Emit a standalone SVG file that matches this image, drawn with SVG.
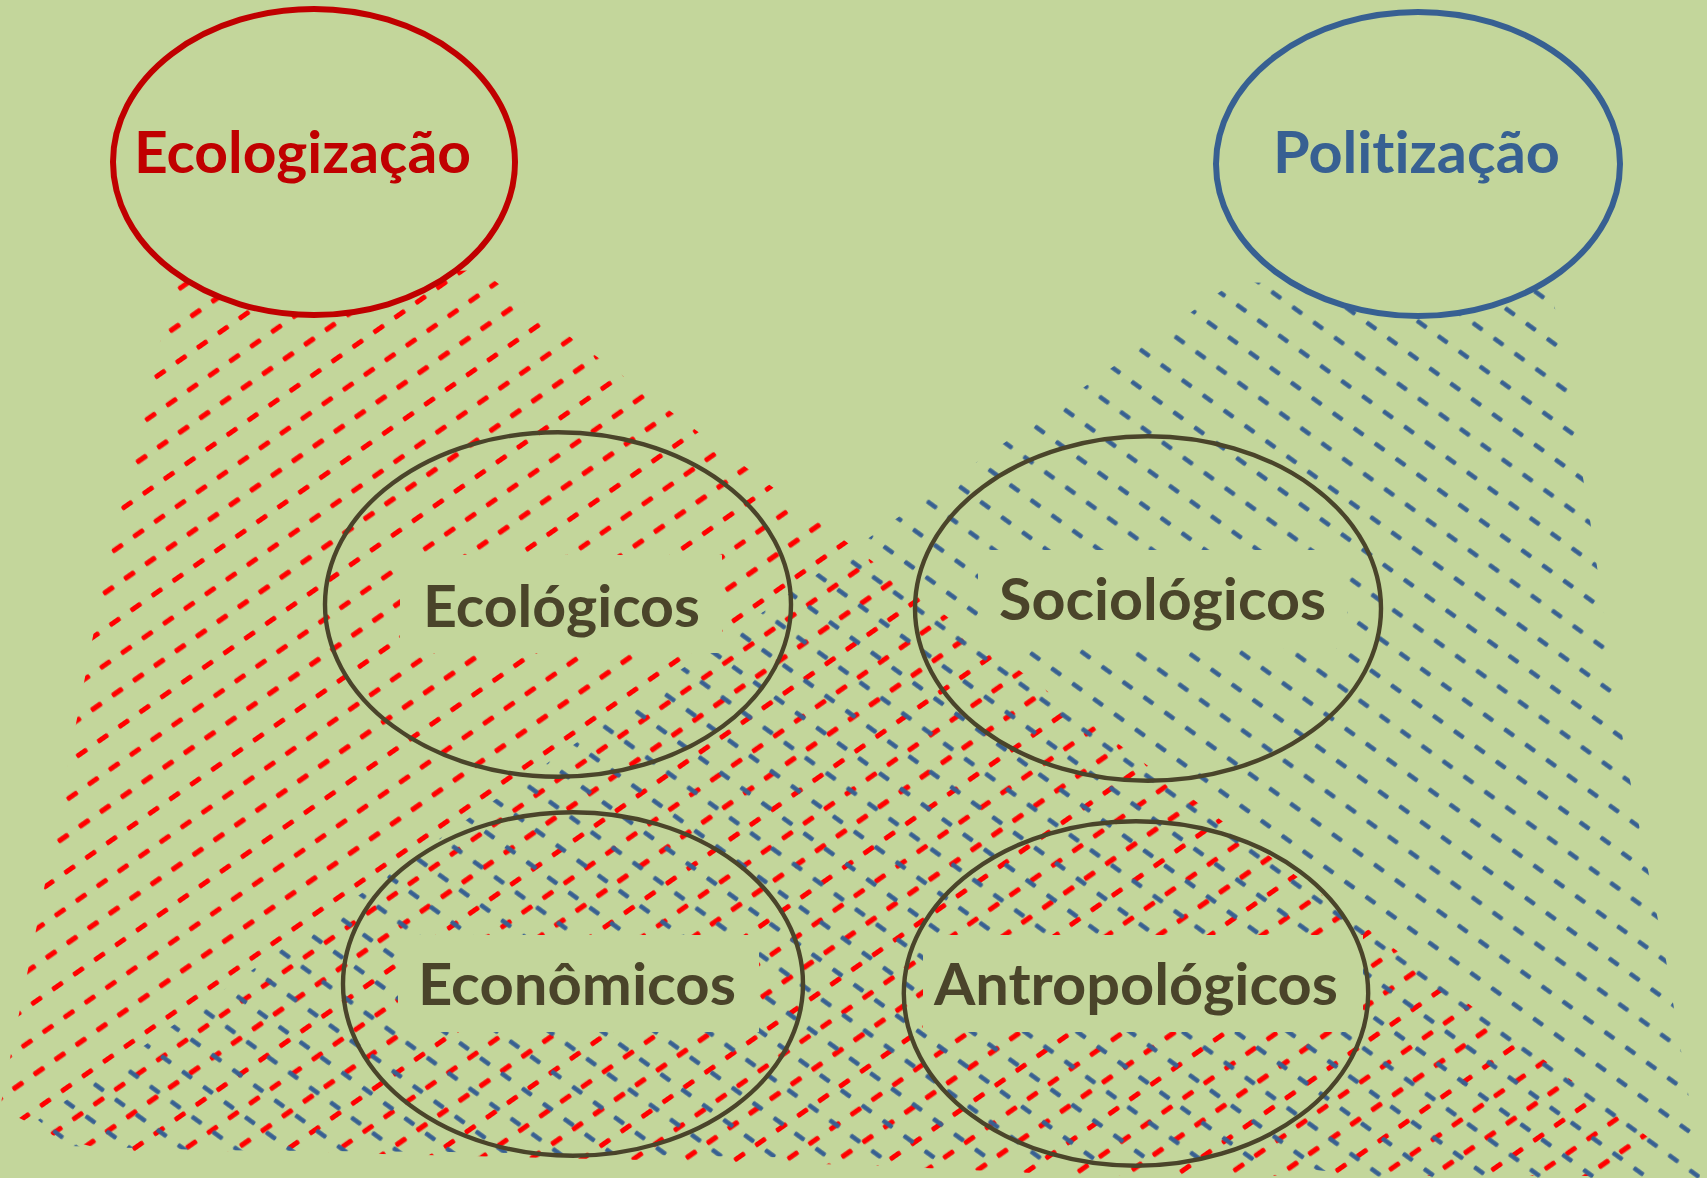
<svg xmlns="http://www.w3.org/2000/svg" width="1707" height="1178" viewBox="0 0 1707 1178">
  <defs>
    <style>
      .bg { fill: #C3D69B; }
      .top-node { fill: #C3D69B; stroke-width: 6; }
      .sub-node { fill: none; stroke: #4A442A; stroke-width: 4.4; }
      .label { font-family: Lato, "Open Sans", "Liberation Sans", sans-serif; font-weight: 700; font-size: 57px; font-variant-ligatures: none; }
      .sub-label { fill: #4A442A; }
      .mask { fill: #C3D69B; }
    </style>
    <pattern id="hatchRed" patternUnits="userSpaceOnUse" width="25.6" height="88.5" patternTransform="rotate(-35)">
      <rect x="0" y="12.3" width="12.6" height="5" rx="1.5" fill="#FF0000"/>
      <rect x="12.8" y="41.8" width="12.6" height="5" rx="1.5" fill="#FF0000"/>
      <rect x="6" y="71.3" width="12.6" height="5" rx="1.5" fill="#FF0000"/>
    </pattern>
    <pattern id="hatchBlue" patternUnits="userSpaceOnUse" width="25.9" height="93" patternTransform="rotate(36)">
      <rect x="0" y="13.3" width="12" height="4.4" rx="1.3" fill="#376092"/>
      <rect x="8.5" y="44.3" width="12" height="4.4" rx="1.3" fill="#376092"/>
      <rect x="13.8" y="75.3" width="12" height="4.4" rx="1.3" fill="#376092"/>
    </pattern>
  </defs>

  <rect class="bg" x="0" y="0" width="1707" height="1178"/>

  <g id="hatching">
    <polygon id="hatch-ecologizacao" fill="url(#hatchRed)" points="176,282 480,270 1652,1140 1602,1176 1100,1176 860,1165 340,1153 110,1151 58,1138 0,1108 36,930 100,600 150,380"/>
    <polygon id="hatch-politizacao" fill="url(#hatchBlue)" points="1234,282 1552,290 1590,520 1626,760 1666,960 1700,1165 1700,1178 1390,1178 1270,1165 450,1152 205,1150 68,1146 38,1120"/>
  </g>

  <g id="node-ecologizacao">
    <ellipse class="top-node" cx="314" cy="162" rx="201" ry="153" stroke="#C00000"/>
    <text class="label" x="134" y="173" fill="#C00000" textLength="337" lengthAdjust="spacingAndGlyphs">Ecologização</text>
  </g>

  <g id="node-politizacao">
    <ellipse class="top-node" cx="1418" cy="164" rx="202" ry="152" stroke="#376092"/>
    <text class="label" x="1273" y="173" fill="#376092" textLength="287" lengthAdjust="spacingAndGlyphs">Politização</text>
  </g>

  <g id="node-ecologicos">
    <rect class="mask" x="400" y="555" width="322" height="98"/>
    <ellipse class="sub-node" cx="558" cy="604.5" rx="233" ry="172.3"/>
    <text class="label sub-label" x="423" y="627" textLength="277" lengthAdjust="spacingAndGlyphs">Ecológicos</text>
  </g>

  <g id="node-sociologicos">
    <rect class="mask" x="978" y="550" width="369" height="98"/>
    <ellipse class="sub-node" cx="1148" cy="608.5" rx="233" ry="172.3"/>
    <text class="label sub-label" x="999" y="620" textLength="327" lengthAdjust="spacingAndGlyphs">Sociológicos</text>
  </g>

  <g id="node-economicos">
    <rect class="mask" x="398" y="935" width="361" height="97"/>
    <ellipse class="sub-node" cx="573" cy="984" rx="230" ry="171.8"/>
    <text class="label sub-label" x="418" y="1005" textLength="318" lengthAdjust="spacingAndGlyphs">Econômicos</text>
  </g>

  <g id="node-antropologicos">
    <rect class="mask" x="923" y="935" width="440" height="97"/>
    <ellipse class="sub-node" cx="1136" cy="993.5" rx="232.2" ry="172.3"/>
    <text class="label sub-label" x="934" y="1005" textLength="404" lengthAdjust="spacingAndGlyphs">Antropológicos</text>
  </g>
</svg>
